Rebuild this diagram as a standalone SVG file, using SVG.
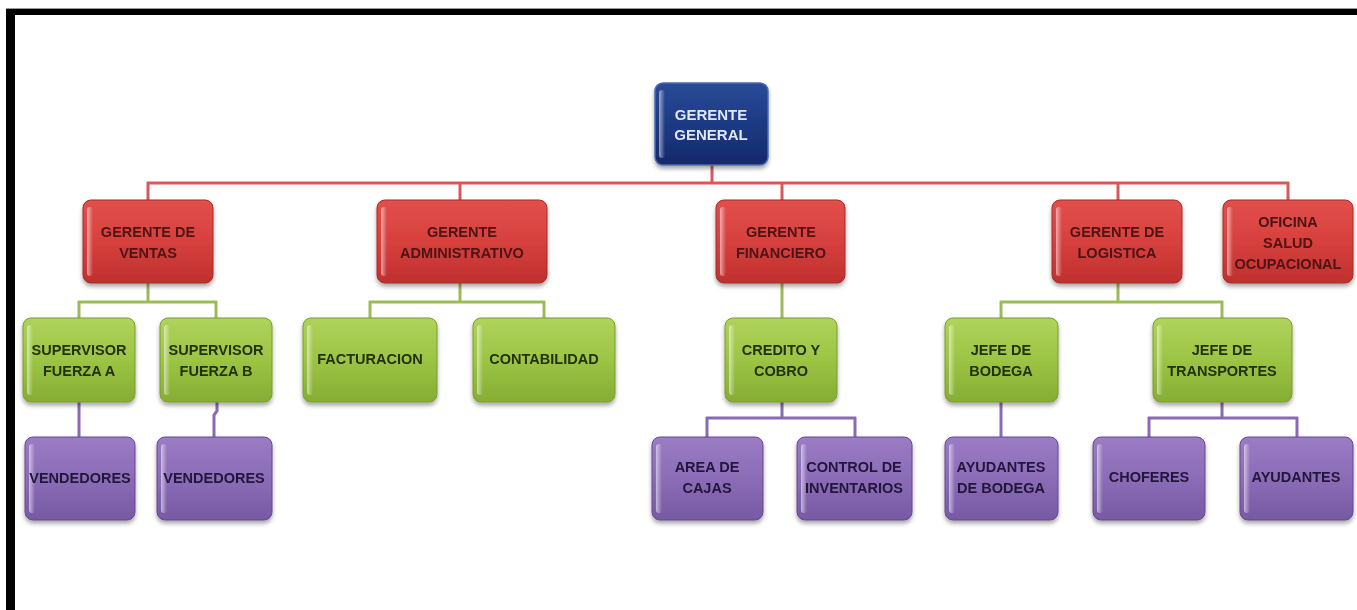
<svg xmlns="http://www.w3.org/2000/svg" width="1357" height="610" viewBox="0 0 1357 610">
  <defs>
    <linearGradient id="gBlue" x1="0" y1="0" x2="0" y2="1">
      <stop offset="0" stop-color="#2a4a96"/>
      <stop offset="0.5" stop-color="#1d3a84"/>
      <stop offset="1" stop-color="#15296a"/>
    </linearGradient>
    <linearGradient id="gRed" x1="0" y1="0" x2="0" y2="1">
      <stop offset="0" stop-color="#e2504c"/>
      <stop offset="0.5" stop-color="#d7403d"/>
      <stop offset="1" stop-color="#bf302e"/>
    </linearGradient>
    <linearGradient id="gGreen" x1="0" y1="0" x2="0" y2="1">
      <stop offset="0" stop-color="#b0d35c"/>
      <stop offset="0.5" stop-color="#9cc444"/>
      <stop offset="1" stop-color="#86ad33"/>
    </linearGradient>
    <linearGradient id="gPurple" x1="0" y1="0" x2="0" y2="1">
      <stop offset="0" stop-color="#9a7cc4"/>
      <stop offset="0.5" stop-color="#8b6cb7"/>
      <stop offset="1" stop-color="#7659a3"/>
    </linearGradient>
    <linearGradient id="hiLeft" x1="0" y1="0" x2="1" y2="0">
      <stop offset="0" stop-color="#ffffff" stop-opacity="0.55"/>
      <stop offset="1" stop-color="#ffffff" stop-opacity="0"/>
    </linearGradient>
    <filter id="shadow" x="-10%" y="-10%" width="120%" height="130%">
      <feDropShadow dx="0" dy="3" stdDeviation="2" flood-color="#000" flood-opacity="0.35"/>
    </filter>
  </defs>
  <style>
    .box { filter: url(#shadow); }
    .blue { fill: url(#gBlue); stroke: #4e6cb0; stroke-width: 1.5; }
    .red { fill: url(#gRed); stroke: #a82a28; stroke-width: 1; }
    .green { fill: url(#gGreen); stroke: #7a9c2e; stroke-width: 1; }
    .purple { fill: url(#gPurple); stroke: #66498f; stroke-width: 1; }
    .hi { fill: url(#hiLeft); }
    text { font-family: "Liberation Sans", Arial, sans-serif; font-weight: bold; font-size: 14.5px; text-anchor: middle; dominant-baseline: central; }
    .tBlue { fill: #dfe7f5; font-size: 15px; }
    .tRed { fill: #4d1212; }
    .tGreen { fill: #23300c; }
    .tPurple { fill: #24163a; }
    .cRed { stroke: #d9585a; stroke-width: 3; fill: none; }
    .cGreen { stroke: #9bbb59; stroke-width: 3; fill: none; }
    .cPurple { stroke: #8a6ab4; stroke-width: 3; fill: none; }
  </style>

  <rect width="1357" height="610" fill="#ffffff"/>

  <!-- page frame -->
  <rect x="6" y="8" width="1351" height="1.5" fill="#9a9a9a"/>
  <rect x="6" y="9" width="1351" height="6" fill="#000"/>
  <rect x="6" y="9" width="9" height="601" fill="#000"/>

  <!-- connectors -->
  <g id="connectors">
    <path class="cRed" d="M712 165 V183 M147 183 H1289 M148 182 V200 M460 182 V200 M782 182 V200 M1118 182 V200 M1288 182 V200"/>
    <path class="cGreen" d="M148 283 V302 M78 302 H217 M79 301 V318 M216 301 V318"/>
    <path class="cGreen" d="M460 283 V302 M369 302 H545 M370 301 V318 M544 301 V318"/>
    <path class="cGreen" d="M782 283 V318"/>
    <path class="cGreen" d="M1118 283 V302 M1000 302 H1223 M1001 301 V318 M1222 301 V318"/>
    <path class="cPurple" d="M79 402 V437"/>
    <path class="cPurple" d="M217 402 V411 L214 415 V437"/>
    <path class="cPurple" d="M782 402 V418 M706 418 H856 M707 417 V437 M855 417 V437"/>
    <path class="cPurple" d="M1001 402 V437"/>
    <path class="cPurple" d="M1222 402 V418 M1148 418 H1298 M1149 417 V437 M1297 417 V437"/>
  </g>

  <!-- level 0 -->
  <g id="gerente-general" class="box">
    <rect class="blue" x="655" y="83" width="113" height="82" rx="8"/>
    <rect class="hi" x="659" y="90" width="6" height="68" rx="3"/>
    <text class="tBlue" x="711" y="114">GERENTE</text>
    <text class="tBlue" x="711" y="134">GENERAL</text>
  </g>

  <!-- level 1 -->
  <g id="gerente-ventas" class="box">
    <rect class="red" x="83" y="200" width="130" height="83" rx="8"/>
    <rect class="hi" x="87" y="207" width="6" height="69" rx="3"/>
    <text class="tRed" x="148" y="232">GERENTE DE</text>
    <text class="tRed" x="148" y="253">VENTAS</text>
  </g>
  <g id="gerente-administrativo" class="box">
    <rect class="red" x="377" y="200" width="170" height="83" rx="8"/>
    <rect class="hi" x="381" y="207" width="6" height="69" rx="3"/>
    <text class="tRed" x="462" y="232">GERENTE</text>
    <text class="tRed" x="462" y="253">ADMINISTRATIVO</text>
  </g>
  <g id="gerente-financiero" class="box">
    <rect class="red" x="716" y="200" width="129" height="83" rx="8"/>
    <rect class="hi" x="720" y="207" width="6" height="69" rx="3"/>
    <text class="tRed" x="781" y="232">GERENTE</text>
    <text class="tRed" x="781" y="253">FINANCIERO</text>
  </g>
  <g id="gerente-logistica" class="box">
    <rect class="red" x="1052" y="200" width="130" height="83" rx="8"/>
    <rect class="hi" x="1056" y="207" width="6" height="69" rx="3"/>
    <text class="tRed" x="1117" y="232">GERENTE DE</text>
    <text class="tRed" x="1117" y="253">LOGISTICA</text>
  </g>
  <g id="oficina-salud" class="box">
    <rect class="red" x="1223" y="200" width="130" height="83" rx="8"/>
    <rect class="hi" x="1227" y="207" width="6" height="69" rx="3"/>
    <text class="tRed" x="1288" y="222">OFICINA</text>
    <text class="tRed" x="1288" y="243">SALUD</text>
    <text class="tRed" x="1288" y="264">OCUPACIONAL</text>
  </g>

  <!-- level 2 -->
  <g id="supervisor-a" class="box">
    <rect class="green" x="23" y="318" width="112" height="84" rx="8"/>
    <rect class="hi" x="27" y="325" width="6" height="70" rx="3"/>
    <text class="tGreen" x="79" y="350">SUPERVISOR</text>
    <text class="tGreen" x="79" y="371">FUERZA A</text>
  </g>
  <g id="supervisor-b" class="box">
    <rect class="green" x="160" y="318" width="112" height="84" rx="8"/>
    <rect class="hi" x="164" y="325" width="6" height="70" rx="3"/>
    <text class="tGreen" x="216" y="350">SUPERVISOR</text>
    <text class="tGreen" x="216" y="371">FUERZA B</text>
  </g>
  <g id="facturacion" class="box">
    <rect class="green" x="303" y="318" width="134" height="84" rx="8"/>
    <rect class="hi" x="307" y="325" width="6" height="70" rx="3"/>
    <text class="tGreen" x="370" y="359">FACTURACION</text>
  </g>
  <g id="contabilidad" class="box">
    <rect class="green" x="473" y="318" width="142" height="84" rx="8"/>
    <rect class="hi" x="477" y="325" width="6" height="70" rx="3"/>
    <text class="tGreen" x="544" y="359">CONTABILIDAD</text>
  </g>
  <g id="credito-cobro" class="box">
    <rect class="green" x="725" y="318" width="112" height="84" rx="8"/>
    <rect class="hi" x="729" y="325" width="6" height="70" rx="3"/>
    <text class="tGreen" x="781" y="350">CREDITO Y</text>
    <text class="tGreen" x="781" y="371">COBRO</text>
  </g>
  <g id="jefe-bodega" class="box">
    <rect class="green" x="945" y="318" width="113" height="84" rx="8"/>
    <rect class="hi" x="949" y="325" width="6" height="70" rx="3"/>
    <text class="tGreen" x="1001" y="350">JEFE DE</text>
    <text class="tGreen" x="1001" y="371">BODEGA</text>
  </g>
  <g id="jefe-transportes" class="box">
    <rect class="green" x="1153" y="318" width="139" height="84" rx="8"/>
    <rect class="hi" x="1157" y="325" width="6" height="70" rx="3"/>
    <text class="tGreen" x="1222" y="350">JEFE DE</text>
    <text class="tGreen" x="1222" y="371">TRANSPORTES</text>
  </g>

  <!-- level 3 -->
  <g id="vendedores-a" class="box">
    <rect class="purple" x="25" y="437" width="110" height="83" rx="8"/>
    <rect class="hi" x="29" y="444" width="6" height="69" rx="3"/>
    <text class="tPurple" x="80" y="478">VENDEDORES</text>
  </g>
  <g id="vendedores-b" class="box">
    <rect class="purple" x="157" y="437" width="115" height="83" rx="8"/>
    <rect class="hi" x="161" y="444" width="6" height="69" rx="3"/>
    <text class="tPurple" x="214" y="478">VENDEDORES</text>
  </g>
  <g id="area-cajas" class="box">
    <rect class="purple" x="652" y="437" width="111" height="83" rx="8"/>
    <rect class="hi" x="656" y="444" width="6" height="69" rx="3"/>
    <text class="tPurple" x="707" y="467">AREA DE</text>
    <text class="tPurple" x="707" y="488">CAJAS</text>
  </g>
  <g id="control-inventarios" class="box">
    <rect class="purple" x="797" y="437" width="115" height="83" rx="8"/>
    <rect class="hi" x="801" y="444" width="6" height="69" rx="3"/>
    <text class="tPurple" x="854" y="467">CONTROL DE</text>
    <text class="tPurple" x="854" y="488">INVENTARIOS</text>
  </g>
  <g id="ayudantes-bodega" class="box">
    <rect class="purple" x="945" y="437" width="113" height="83" rx="8"/>
    <rect class="hi" x="949" y="444" width="6" height="69" rx="3"/>
    <text class="tPurple" x="1001" y="467">AYUDANTES</text>
    <text class="tPurple" x="1001" y="488">DE BODEGA</text>
  </g>
  <g id="choferes" class="box">
    <rect class="purple" x="1093" y="437" width="112" height="83" rx="8"/>
    <rect class="hi" x="1097" y="444" width="6" height="69" rx="3"/>
    <text class="tPurple" x="1149" y="477">CHOFERES</text>
  </g>
  <g id="ayudantes" class="box">
    <rect class="purple" x="1240" y="437" width="113" height="83" rx="8"/>
    <rect class="hi" x="1244" y="444" width="6" height="69" rx="3"/>
    <text class="tPurple" x="1296" y="477">AYUDANTES</text>
  </g>
</svg>
